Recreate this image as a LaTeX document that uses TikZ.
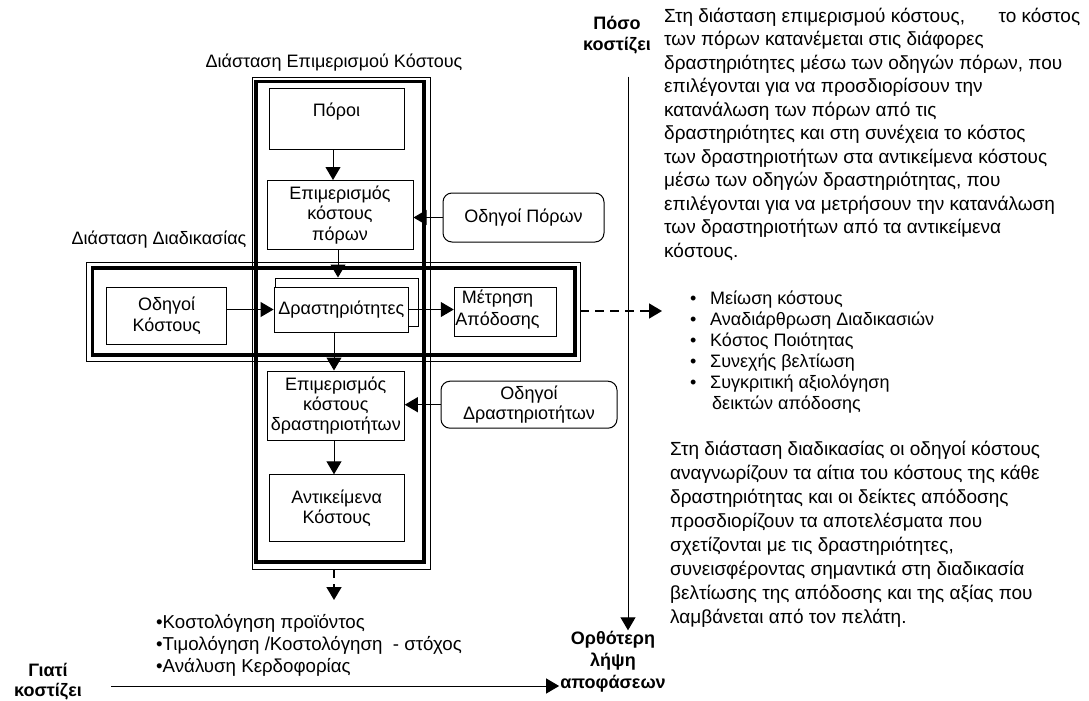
\documentclass[tikz,border=0pt]{standalone}
\usepackage{fontspec}
\setmainfont{Liberation Sans}
\usetikzlibrary{arrows.meta}
\newcommand\txt[1]{\fontsize{18}{#1}\selectfont}
\newcommand\bigtxt[1]{\fontsize{19}{#1}\selectfont}
\tikzset{
	box/.style={draw, line width=1pt, inner sep=1pt, align=center, font=\txt{20.3}},
	roundbox/.style={box, rounded corners=9pt},
	boxtext/.style={inner sep=1pt, align=center, font=\txt{22}},
	dimtext/.style={inner sep=1pt, font=\txt{22}},
	axistext/.style={inner sep=1pt, align=center, font=\txt{22}\bfseries},
	paratext/.style={inner sep=0pt, align=left},
	arr/.style={line width=1pt, -{Triangle[length=13pt,width=15pt]}},
	dasharr/.style={arr, line width=1.6pt, dash pattern=on 9pt off 6pt},
	thinframe/.style={line width=1pt},
	thickframe/.style={line width=3.8pt},
}

\begin{document}
\begin{tikzpicture}[x=1pt, y=-1pt]
		%%%%% START %%%%%
		\useasboundingbox (0,0) rectangle (1089,701);
		
		% the two dimensions
		\draw[thinframe] (252,77) rectangle (430,569);
		\draw[thickframe] (255.7,81.5) rectangle (424.2,561.7);
		\draw[thinframe] (86,262) rectangle (580,361);
		\draw[thickframe] (92.4,268.2) rectangle (574.7,355);
		
		\node[dimtext] (dimcost) at (334,63) {Διάσταση Επιμερισμού Κόστους};
		\node[dimtext] (dimproc) at (159,240) {Διάσταση Διαδικασίας};
		
		\coordinate (colA) at (333,0);
		\coordinate (colB) at (338,0);
		\coordinate (colC) at (334,0);
		
		\node[box, minimum width=135pt, minimum height=61pt] (poroi) at (336.5,118.5) {\raisebox{7pt}[\height][\depth]{Πόροι}};
		\node[box, minimum width=146pt, minimum height=69pt] (allocres) at (340,215) {Επιμερισμός\\κόστους\\πόρων};
		\node[roundbox, minimum width=161pt, minimum height=49pt] (resdrv) at (523.5,217.5) {Οδηγοί Πόρων};
		\node[box, minimum width=120pt, minimum height=57pt] (costdrv) at (166.7,315.8) {Οδηγοί\\Κόστους};
		\node[box, minimum width=143pt, minimum height=48pt] (actback) at (347,302) {};
		\node[box, fill=white, minimum width=134.5pt, minimum height=45pt] (act) at (341.3,309.5) {Δραστηριότητες};
		\node[box, minimum width=102.5pt, minimum height=49.5pt] (perf) at (505.5,312) {};
		\node[boxtext] (perftext) at (497.5,309.5) {Μέτρηση\\Απόδοσης};
		\node[box, minimum width=137pt, minimum height=69pt] (allocact) at (335.8,405.5) {Επιμερισμός\\κόστους\\δραστηριοτήτων};
		\node[roundbox, minimum width=176pt, minimum height=47pt] (actdrv) at (529,404.7) {Οδηγοί\\Δραστηριοτήτων};
		\node[box, minimum width=135pt, minimum height=67pt] (costobj) at (336.7,508.3) {Αντικείμενα\\Κόστους};
		
		\draw[arr] (poroi.south -| colA) -- (allocres.north -| colA);
		\draw[arr] (allocres.south -| colB) -- (actback.north -| colB);
		\draw[arr] (resdrv.west) -- (resdrv.west -| allocres.east);
		\draw[arr] (costdrv.east |- act.west) -- (act.west);
		\draw[arr] (act.east) -- (act.east -| perf.west);
		\draw[arr] (act.south -| colC) -- (allocact.north -| colC);
		\draw[arr] (actdrv.west) -- (actdrv.west -| allocact.east);
		\draw[arr] (allocact.south -| colC) -- (costobj.north -| colC);
		
		\coordinate (vfoot) at (334,569);
		\coordinate (costuse) at (334,600);
		\draw[dasharr] (vfoot) -- (costuse);
		\coordinate (hend) at (580,311);
		\coordinate (mgmtuse) at (662,311);
		\draw[dasharr] (hend) -- (mgmtuse);
		
		% axes
		\node[axistext, font=\txt{21}\bfseries] (howmuch) at (617,35) {Πόσο\\κοστίζει};
		\node[axistext] (better) at (613,662) {Ορθότερη\\λήψη\\αποφάσεων};
		\node[axistext, font=\txt{20}\bfseries] (why) at (48,682) {Γιατί\\κοστίζει};
		\coordinate (vtop) at (628,76.5);
		\draw[arr] (vtop) -- (vtop |- better.north);
		\coordinate (hleft) at (111,686);
		\draw[arr] (hleft) -- (hleft -| better.west);
		
		% texts
		\node[paratext, anchor=west, font=\fontsize{18.7}{22}\selectfont] (costlist) at (156,645) {•Κοστολόγηση προϊόντος\\•Τιμολόγηση /Κοστολόγηση\ \ - στόχος\\•Ανάλυση Κερδοφορίας};
		\node[paratext, anchor=west, font=\bigtxt{23.5}] (alloctext) at (664,134.2) {\makebox[416pt][l]{Στη διάσταση επιμερισμού κόστους,\hfill το κόστος}\\των πόρων κατανέμεται στις διάφορες\\δραστηριότητες μέσω των οδηγών πόρων, που\\επιλέγονται για να προσδιορίσουν την\\κατανάλωση των πόρων από τις\\δραστηριότητες και στη συνέχεια το κόστος\\των δραστηριοτήτων στα αντικείμενα κόστους\\μέσω των οδηγών δραστηριότητας, που\\επιλέγονται για να μετρήσουν την κατανάλωση\\των δραστηριοτήτων από τα αντικείμενα\\κόστους.};
		\node[paratext, anchor=west, font=\txt{21}] (mgmtlist) at (690,352.5) {\makebox[20pt][l]{•}Μείωση κόστους\\\makebox[20pt][l]{•}Αναδιάρθρωση Διαδικασιών\\\makebox[20pt][l]{•}Κόστος Ποιότητας\\\makebox[20pt][l]{•}Συνεχής βελτίωση\\\makebox[20pt][l]{•}Συγκριτική αξιολόγηση\\\hspace*{22pt}δεικτών απόδοσης};
		\node[paratext, anchor=west, font=\bigtxt{24}] (proctext) at (670,534) {Στη διάσταση διαδικασίας οι οδηγοί κόστους\\αναγνωρίζουν τα αίτια του κόστους της κάθε\\δραστηριότητας και οι δείκτες απόδοσης\\προσδιορίζουν τα αποτελέσματα που\\σχετίζονται με τις δραστηριότητες,\\συνεισφέροντας σημαντικά στη διαδικασία\\βελτίωσης της απόδοσης και της αξίας που\\λαμβάνεται από τον πελάτη.};
		
		%%%%% END %%%%%
\end{tikzpicture}
\end{document}
